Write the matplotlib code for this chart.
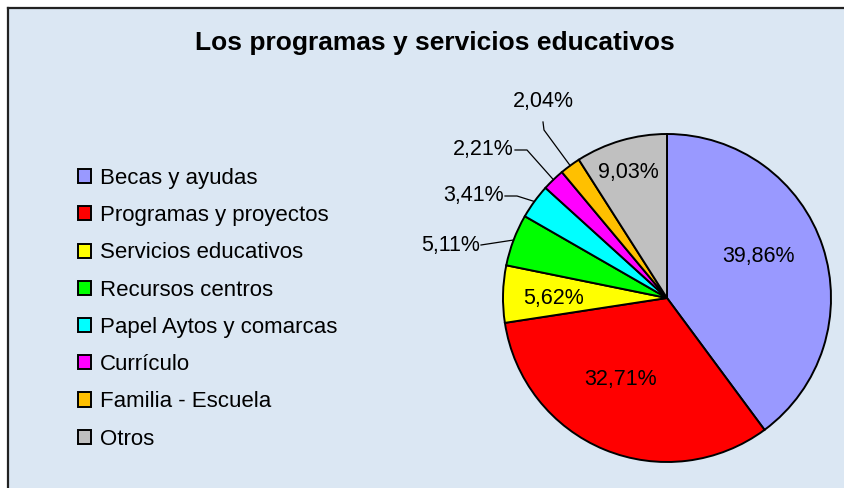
import numpy as np
import matplotlib.pyplot as plt
from matplotlib.patches import Rectangle

plt.rcParams['font.family'] = ['Liberation Sans', 'DejaVu Sans']

# Datos del gráfico
categorias = ['Becas y ayudas', 'Programas y proyectos', 'Servicios educativos',
              'Recursos centros', 'Papel Aytos y comarcas', 'Currículo',
              'Familia - Escuela', 'Otros']
porcentajes = [39.86, 32.71, 5.62, 5.11, 3.41, 2.21, 2.04, 9.03]
colores = ['#9999ff', '#ff0000', '#ffff00', '#00ff00', '#00ffff', '#ff00ff',
           '#ffc000', '#c0c0c0']
etiquetas = ['39,86%', '32,71%', '5,62%', '5,11%', '3,41%', '2,21%', '2,04%', '9,03%']

W, H = 844, 488
fig = plt.figure(figsize=(W / 100, H / 100), dpi=100)
fig.patch.set_facecolor('white')
ax = fig.add_axes([0, 0, 1, 1])


def py(y):
    # coordenada y de la imagen -> coordenada de datos
    return H - y


# fondo del área del gráfico con borde arriba e izquierda
ax.add_patch(Rectangle((8, 0), W - 8, py(8), facecolor='#dbe7f3', edgecolor='none', zorder=0))
ax.plot([8, W], [py(8), py(8)], color='#222222', lw=1.6, zorder=1)
ax.plot([8, 8], [0, py(8)], color='#222222', lw=1.6, zorder=1)

cx, cy, r = 667, py(298), 164
wedges, _ = ax.pie(porcentajes, colors=colores, startangle=90, counterclock=False,
                   center=(cx, cy), radius=r,
                   wedgeprops=dict(edgecolor='black', linewidth=1.4))

FS = 15.5

# etiquetas dentro de la tarta: (índice, radio relativo, ángulo)
dentro = [(0, 0.61, 24.2), (1, 0.576, -119.8), (2, 0.69, 180.5), (7, 0.80, 107.3)]
for i, rr, ang in dentro:
    a = np.deg2rad(ang)
    ax.text(cx + rr * r * np.cos(a), cy + rr * r * np.sin(a), etiquetas[i],
            ha='center', va='center', fontsize=FS, zorder=5)

# etiquetas fuera con líneas guía: (índice, x texto, y texto, codo)
fuera = [(3, 481, 245, 0), (4, 505, 196, 12), (5, 515, 150, 12)]
for i, tx, ty, codo in fuera:
    w = wedges[i]
    a = np.deg2rad((w.theta1 + w.theta2) / 2)
    ex, ey = cx + r * np.cos(a), cy + r * np.sin(a)
    ax.plot([tx, tx + codo, ex], [py(ty), py(ty), ey], color='black', lw=0.9, zorder=4)
    ax.text(tx - 1, py(ty), etiquetas[i], ha='right', va='center', fontsize=FS, zorder=5)

w = wedges[6]
a = np.deg2rad((w.theta1 + w.theta2) / 2)
ex, ey = cx + r * np.cos(a), cy + r * np.sin(a)
ax.plot([543, 544, ex], [py(122), py(130), ey], color='black', lw=0.9, zorder=4)
ax.text(543, py(102), etiquetas[6], ha='center', va='center', fontsize=FS, zorder=5)

ax.text(435, py(43), 'Los programas y servicios educativos', ha='center', va='center',
        fontsize=19, fontweight='bold')

leg = ax.legend(wedges, categorias, loc='upper left', bbox_to_anchor=(78 / W, 1 - 168 / H),
                frameon=False, fontsize=16, handlelength=0.6, handleheight=0.6,
                handletextpad=0.38, labelspacing=0.73, borderaxespad=0, borderpad=0)

ax.set_xlim(0, W)
ax.set_ylim(0, H)
ax.set_aspect('equal')
ax.axis('off')

fig.savefig('out.png', dpi=100, facecolor=fig.get_facecolor())
